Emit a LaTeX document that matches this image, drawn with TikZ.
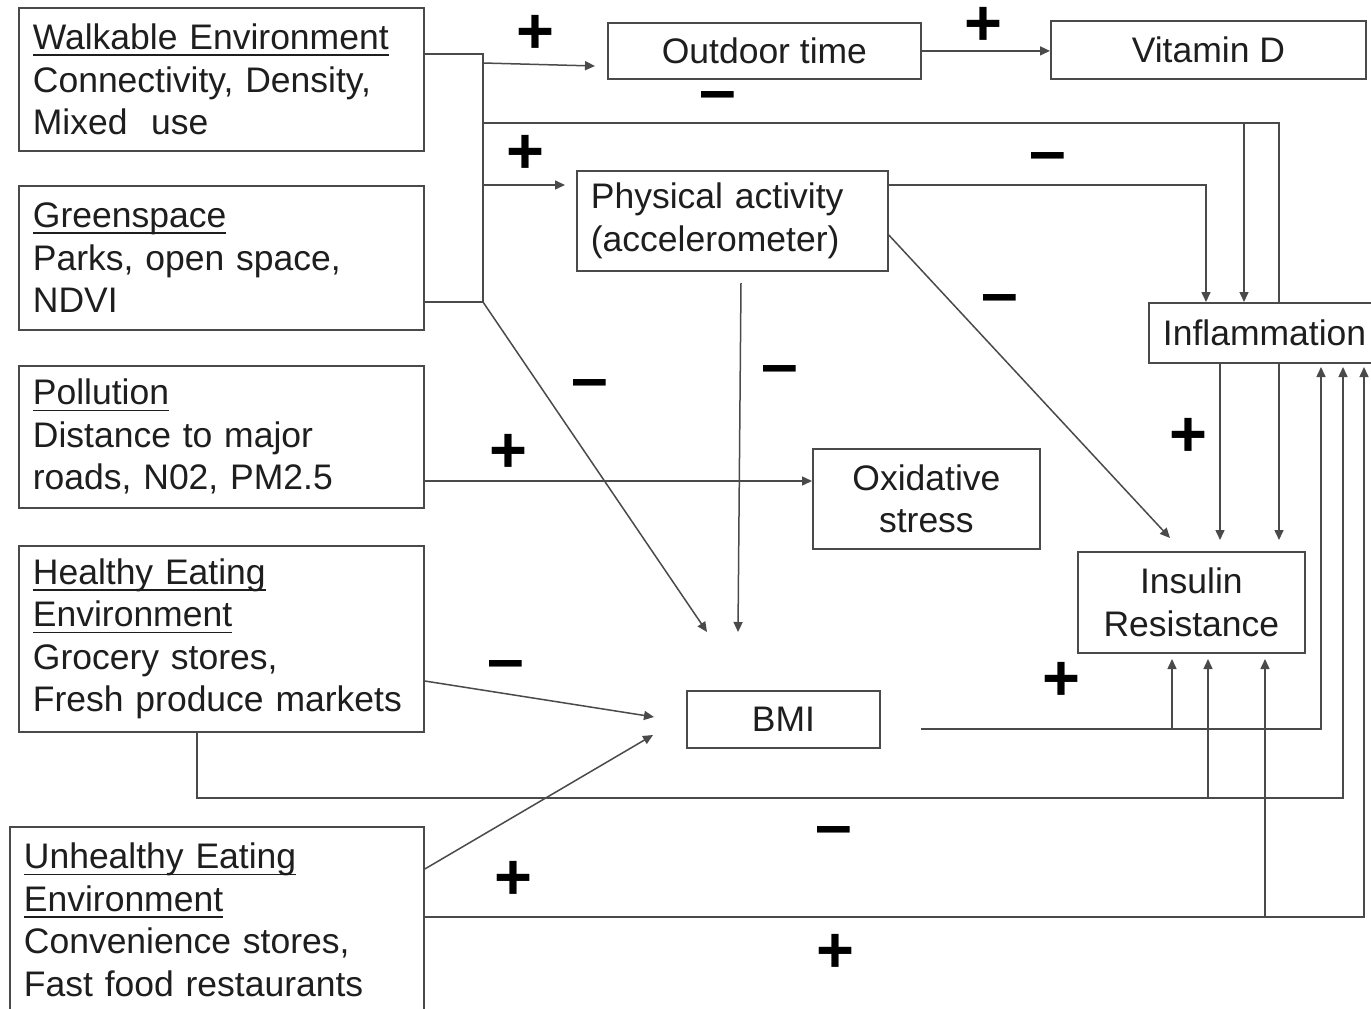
\documentclass[tikz,border=0pt]{standalone}
\usepackage{fontspec}
\setmainfont{Liberation Sans}
\newcommand{\myul}[1]{\leavevmode\setbox0=\hbox{#1}\rlap{\rule[-6.5pt]{\wd0}{1.8pt}}\box0}
\usetikzlibrary{arrows.meta,backgrounds,calc}
\definecolor{ln}{HTML}{4A4A4A}
\definecolor{tx}{HTML}{1E1E1E}
\begin{document}
\begin{tikzpicture}[x=1pt,y=-1pt,
  box/.style={draw=ln, line width=1.8pt, fill=white, text=tx, anchor=north west,
    inner ysep=0pt, font=\fontsize{35.5}{42.5}\selectfont},
  lbox/.style={box, align=left, inner xsep=14pt},
  cbox/.style={box, align=center, inner xsep=0pt},
  conn/.style={draw=ln, line width=1.5pt},
  arr/.style={conn, -{Triangle[length=10pt,width=9pt]}},
  plussign/.style={text=black, font=\fontsize{65}{65}\selectfont\bfseries, inner sep=0pt,
    anchor=base, text height=0.62em, text depth=0pt},
  minussign/.style={text=black, font=\fontsize{66}{66}\selectfont\bfseries, inner sep=0pt,
    anchor=base, text height=0.34em, text depth=0pt},
]
\useasboundingbox (0,0) rectangle (1371,1009);

% boxes
\node[lbox, text width=377pt, minimum height=143pt] (walk) at (18,7)
  {\myul{Walkable Environment}\\Connectivity, Density,\\Mixed\ \ use};
\node[lbox, text width=377pt, minimum height=144pt] (green) at (18,185)
  {\myul{Greenspace}\\Parks, open space,\\NDVI};
\node[lbox, text width=377pt, minimum height=142pt] (poll) at (18,365)
  {\myul{Pollution}\\Distance to major\\roads, N02, PM2.5};
\node[lbox, text width=377pt, minimum height=186pt] (heal) at (18,545)
  {\myul{Healthy Eating}\\\myul{Environment}\\Grocery stores,\\Fresh produce markets};
\node[lbox, text width=386pt, minimum height=186pt] (unh) at (9,826)
  {\myul{Unhealthy Eating}\\\myul{Environment}\\Convenience stores,\\Fast food restaurants};
\node[cbox, minimum width=313pt, minimum height=56pt] (out) at (607,22) {Outdoor time};
\node[cbox, minimum width=315pt, minimum height=58pt] (vit) at (1050,20) {Vitamin D};
\node[lbox, text width=283pt, minimum height=100pt] (pa) at (576,170)
  {Physical activity\\(accelerometer)};
\node[lbox, text width=215pt, minimum height=60pt] (infl) at (1148,302) {Inflammation};
\node[cbox, minimum width=227pt, minimum height=100pt] (oxi) at (812,448) {Oxidative\\stress};
\node[cbox, minimum width=227pt, minimum height=101pt] (ins) at (1077,551) {Insulin\\Resistance};
\node[cbox, minimum width=193pt, minimum height=57pt] (bmi) at (686,690) {BMI};

% signs
\node[plussign] (p1) at (535,53) {+};
\node[plussign] (p2) at (983,45) {+};
\node[plussign] (p3) at (525,173) {+};
\node[plussign] (p4) at (508,472) {+};
\node[plussign] (p5) at (1188,456) {+};
\node[plussign] (p6) at (1061,700) {+};
\node[plussign] (p7) at (513,899) {+};
\node[plussign] (p8) at (835,972) {+};
\node[minussign] (m1) at (718,112) {–};
\node[minussign] (m2) at (1048,173) {–};
\node[minussign] (m3) at (1000,315) {–};
\node[minussign] (m4) at (590,400) {–};
\node[minussign] (m5) at (780,386) {–};
\node[minussign] (m6) at (506,681) {–};
\node[minussign] (m7) at (834,847) {–};

\begin{scope}[on background layer]
\fill[white] (0,0) rectangle (1371,1009);
% walkable / greenspace junction
\coordinate (jA) at (483,54);
\coordinate (jB) at (483,302);
\draw[conn] (walk.east |- jA) -- (jA) -- (jB) -- (green.east |- jB);
\coordinate (jOut) at (483,63);
\coordinate (tOut) at (595,66);
\draw[arr] (jOut) -- (tOut);
\coordinate (jC) at (483,123);
\coordinate (cC) at (1279,123);
\coordinate (tC) at (1279,540);
\draw[arr] (jC) -- (cC) -- (tC);
\coordinate (jV) at (1244,123);
\draw[arr] (jV) -- (jV |- infl.north);
\coordinate (jPA) at (483,185);
\coordinate (tPA) at (565,185);
\draw[arr] (jPA) -- (tPA);
\coordinate (tB1) at (707,632);
\draw[arr] (jB) -- (tB1);
% physical activity
\coordinate (cPA) at (1206,185);
\draw[arr] (pa.east |- cPA) -- (cPA) -- (cPA |- infl.north);
\coordinate (sPA2) at (887,235);
\coordinate (tPA2) at (1170,538);
\draw[arr] (pa.east |- sPA2) -- (tPA2);
\coordinate (sPA3) at (741,283);
\coordinate (tPA3) at (738,632);
\draw[arr] (sPA3) -- (tPA3);
% pollution
\coordinate (sPo) at (423,481);
\draw[arr] (poll.east |- sPo) -- (oxi.west |- sPo);
% eating to BMI
\coordinate (sHe) at (423,681);
\coordinate (tHe) at (654,717);
\draw[arr] (heal.east |- sHe) -- (tHe);
\coordinate (sUn) at (423,869);
\coordinate (tUn) at (653,735);
\draw[arr] (unh.east |- sUn) -- (tUn);
% inflammation to insulin
\coordinate (tIn) at (1220,540);
\draw[arr] (infl.south -| tIn) -- (tIn);
% BMI
\coordinate (sB) at (921,729);
\coordinate (cB) at (1321,729);
\coordinate (tB) at (1321,367);
\draw[arr] (sB) -- (cB) -- (tB);
\coordinate (jB2) at (1172,729);
\coordinate (tB2) at (1172,659);
\draw[arr] (jB2) -- (tB2);
% healthy eating
\coordinate (cH1) at (197,798);
\coordinate (cH2) at (1343,798);
\coordinate (tH) at (1343,367);
\draw[arr] (heal.south -| cH1) -- (cH1) -- (cH2) -- (tH);
\coordinate (jH) at (1208,798);
\coordinate (tH2) at (1208,659);
\draw[arr] (jH) -- (tH2);
% unhealthy eating
\coordinate (cU) at (1364,917);
\coordinate (tU) at (1364,367);
\draw[arr] (unh.east |- cU) -- (cU) -- (tU);
\coordinate (jU) at (1265,917);
\coordinate (tU2) at (1265,659);
\draw[arr] (jU) -- (tU2);
% outdoor time to vitamin D
\draw[arr] (out.east) -- (vit.west |- out.east);
\end{scope}
\end{tikzpicture}
\end{document}
